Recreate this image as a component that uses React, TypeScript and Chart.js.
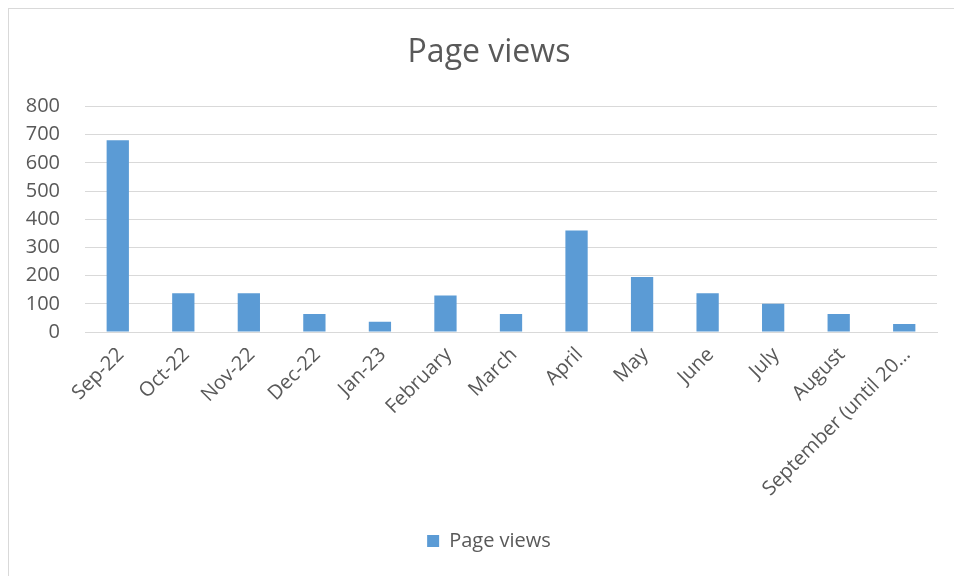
import React, { useEffect, useRef } from "react";
import { Chart, registerables } from "chart.js";

Chart.register(...registerables);

const categories = [
  "Sep-22", "Oct-22", "Nov-22", "Dec-22", "Jan-23", "February", "March",
  "April", "May", "June", "July", "August", "September (until 20…",
];
const pageViews = [680, 137, 137, 64, 36, 129, 64, 360, 195, 137, 100, 64, 28];
const seriesName = "Page views";
const chartTitle = "Page views";

const FONT = "'Open Sans', sans-serif";
const TEXT = "#595959";

export default function App() {
  const ref = useRef<HTMLCanvasElement | null>(null);

  useEffect(() => {
    document.body.style.overflow = "hidden";
    const chart = new Chart(ref.current!, {
      type: "bar",
      data: {
        labels: categories,
        datasets: [
          {
            label: seriesName,
            data: pageViews,
            backgroundColor: "#5b9bd5",
            borderColor: "#5b9bd5",
            borderWidth: 0,
            barPercentage: 0.34,
            categoryPercentage: 1,
            yAxisID: "y",
          },
        ],
      },
      options: {
        responsive: false,
        animation: false,
        layout: { padding: { top: 0, right: 0, left: 0, bottom: 15 } },
        plugins: {
          title: {
            display: true,
            text: chartTitle,
            color: TEXT,
            font: { family: FONT, size: 32, weight: "normal" },
            padding: { top: 25, bottom: 34 },
          },
          legend: {
            position: "bottom",
            labels: {
              color: TEXT,
              font: { family: FONT, size: 20 },
              boxWidth: 12,
              boxHeight: 12,
              padding: 10,
            },
          },
          tooltip: { enabled: false },
        },
        scales: {
          x: {
            grid: { display: false, drawTicks: false },
            border: { display: true, color: "#d9d9d9" },
            ticks: {
              color: TEXT,
              font: { family: FONT, size: 20 },
              minRotation: 45,
              maxRotation: 45,
              autoSkip: false,
              padding: 11,
              labelOffset: 3,
            },
            afterFit: (s: any) => {
              s.height = 189;
            },
          },
          y: {
            position: "left",
            min: 0,
            max: 800,
            grid: { color: "#d9d9d9", drawTicks: false },
            border: { display: false },
            ticks: {
              stepSize: 100,
              color: TEXT,
              font: { family: FONT, size: 20 },
              padding: 25,
            },
            afterFit: (s: any) => {
              s.width = 76;
            },
          },
          yRight: {
            type: "linear",
            position: "right",
            display: true,
            min: 0,
            max: 800,
            grid: { display: false, drawTicks: false },
            border: { display: false },
            ticks: { display: false },
            afterFit: (s: any) => {
              s.width = 32;
            },
          },
        },
      },
    });
    return () => chart.destroy();
  }, []);

  return (
    <div
      style={{
        position: "fixed",
        left: 8,
        top: 8,
        width: 946,
        height: 568,
        borderTop: "1px solid #d9d9d9",
        borderLeft: "1px solid #d9d9d9",
        overflow: "hidden",
      }}
    >
      <canvas ref={ref} width={960} height={567} style={{ display: "block" }} />
    </div>
  );
}
